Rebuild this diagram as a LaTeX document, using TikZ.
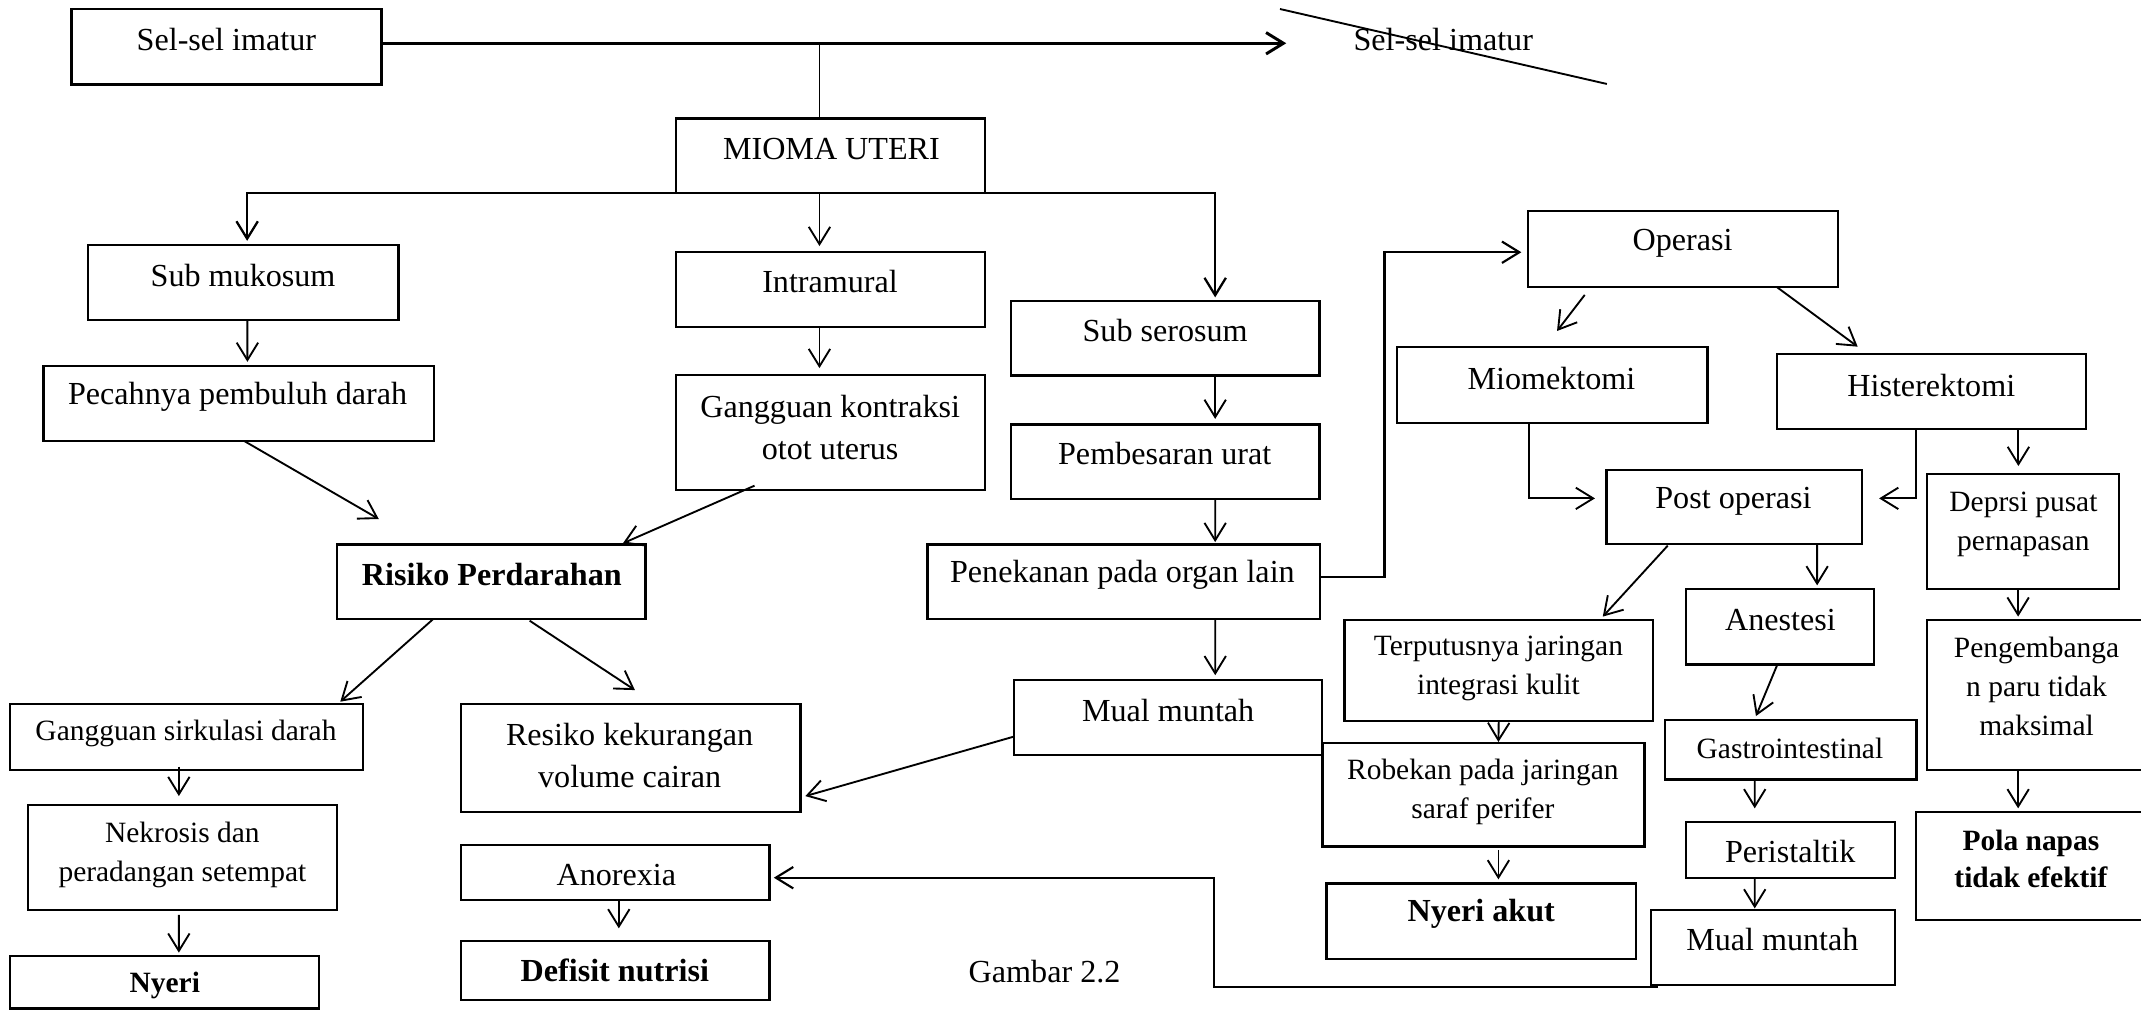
\documentclass[tikz,border=0pt]{standalone}
\usepackage{fontspec}
\setmainfont{Liberation Serif}
\usetikzlibrary{arrows.meta,calc}
\newcommand{\bx}[5]{\node[box, minimum width={(#4-#2)*0.51pt}, minimum height={(#5-#3)*0.51pt}] (#1) at ({(#2+#4)/2},{(#3+#5)/2}) {};}
\begin{document}
\begin{tikzpicture}[x=0.51pt,y=-0.51pt,
  box/.style={draw, line width=0.85pt, inner sep=0pt, outer sep=0pt},
  t12/.style={font=\fontsize{12}{15.8}\selectfont, align=center, inner sep=0pt},
  t11/.style={font=\fontsize{11}{14.6}\selectfont, align=center, inner sep=0pt},
  t12b/.style={t12, font=\fontsize{12}{15.8}\selectfont\bfseries},
  t11b/.style={t11, font=\fontsize{11}{14}\selectfont\bfseries},
  ln/.style={line width=0.7pt},
  arr/.style={ln, -{Straight Barb[length=6.5pt,width=8pt]}},
  barln/.style={line width=0.85pt},
  thickln/.style={line width=0.8pt},
  topln/.style={line width=1.1pt}]
\useasboundingbox (0,0) rectangle (1568,739.7);

% boxes
\bx{sel}{52.3}{6.6}{279.3}{61.8}
\bx{mioma}{495.1}{86.7}{721.6}{141.6}
\bx{submuk}{64.5}{179.4}{291.9}{234.4}
\bx{intra}{495.1}{184.8}{721.6}{239.7}
\bx{subser}{740.3}{220.4}{966.4}{275.1}
\bx{pec}{31.8}{268}{317.6}{323}
\bx{gkon}{495.1}{274.6}{721.6}{358.9}
\bx{pemb}{740.3}{310.8}{966.4}{365.5}
\bx{risiko}{246.6}{398.7}{472.7}{453.6}
\bx{penek}{679.2}{398.7}{966.9}{453.6}
\bx{mual1}{742.4}{498}{968}{553}
\bx{gsirk}{7.2}{515.6}{266.1}{564}
\bx{resiko}{337.6}{515.6}{586.2}{594.5}
\bx{nekro}{20.5}{589.6}{246.6}{666.5}
\bx{nyeri}{7.2}{700}{233.8}{738.5}
\bx{anor}{337.6}{618.9}{563.6}{659.2}
\bx{defisit}{337.6}{689}{563.6}{732.4}
\bx{operasi}{1118.8}{154.5}{1346}{210}
\bx{miom}{1023.1}{253.9}{1250.4}{309.6}
\bx{hist}{1301.4}{259.5}{1527.5}{314.4}
\bx{post}{1176.5}{344.2}{1363.4}{398.6}
\bx{deprsi}{1411}{347.2}{1552}{431.6}
\bx{terput}{984.6}{454}{1210.6}{527.8}
\bx{anest}{1234.6}{431.6}{1372.2}{486.6}
\bx{gastro}{1219.5}{527.4}{1403.5}{570.8}
\bx{robek}{968.5}{544.4}{1204.4}{620}
\bx{peri}{1234.6}{601.8}{1387.8}{642.8}
\bx{nyeriak}{971.4}{647}{1198.1}{702.4}
\bx{mual2}{1209.2}{666.5}{1387.8}{721.4}
\bx{peng}{1411}{454}{1575}{564}
\bx{pola}{1403.3}{594.5}{1575}{673.8}

% texts
\node[t12] (sel-t) at (165.8,28.8) {Sel-sel imatur};
\node[t12] (xsel) at (1057,29.3) {Sel-sel imatur};
\node[t12] (mioma-t) at (608.9,109.1) {MIOMA UTERI};
\node[t12] (submuk-t) at (178,202.1) {Sub mukosum};
\node[t12] (intra-t) at (607.9,206.3) {Intramural};
\node[t12] (subser-t) at (853.3,242.4) {Sub serosum};
\node[t12] (pec-t) at (174,290.5) {Pecahnya pembuluh darah};
\node[t12] (gkon-t) at (608,313.2) {Gangguan kontraksi\\otot uterus};
\node[t12] (pemb-t) at (853,332.5) {Pembesaran urat};
\node[t12b] (risiko-t) at (360.2,421.1) {Risiko Perdarahan};
\node[t12] (penek-t) at (822,421.1) {Penekanan pada organ lain};
\node[t12] (mual1-t) at (855.5,520) {Mual muntah};
\node[t11] (gsirk-t) at (136.2,537.1) {Gangguan sirkulasi darah};
\node[t12] (resiko-t) at (461.1,553.5) {Resiko kekurangan\\volume cairan};
\node[t11] (nekro-t) at (133.6,626) {Nekrosis dan\\peradangan setempat};
\node[t11b] (nyeri-t) at (120.7,721.4) {Nyeri};
\node[t12] (anor-t) at (451.4,640.9) {Anorexia};
\node[t12b] (defisit-t) at (450.3,710.4) {Defisit nutrisi};
\node[t12] (gambar) at (765,711.6) {Gambar 2.2};
\node[t12] (operasi-t) at (1232.2,178.5) {Operasi};
\node[t12] (miom-t) at (1136.2,277.5) {Miomektomi};
\node[t12] (hist-t) at (1414.4,282.7) {Histerektomi};
\node[t12] (post-t) at (1269.5,366.8) {Post operasi};
\node[t11] (deprsi-t) at (1481.9,384) {Deprsi pusat\\pernapasan};
\node[t11] (terput-t) at (1097.4,489.2) {Terputusnya jaringan\\integrasi kulit};
\node[t12] (anest-t) at (1303.9,454.1) {Anestesi};
\node[t11] (gastro-t) at (1310.9,548.1) {Gastrointestinal};
\node[t11] (robek-t) at (1086,580.2) {Robekan pada jaringan\\saraf perifer};
\node[t12] (peri-t) at (1311.1,623.3) {Peristaltik};
\node[t12b] (nyeriak-t) at (1084.8,668.9) {Nyeri akut};
\node[t12] (mual2-t) at (1298,688.4) {Mual muntah};
\node[t11] (peng-t) at (1491.5,503) {Pengembanga\\n paru tidak\\maksimal};
\node[t11b] (pola-t) at (1487.4,629.2) {Pola napas\\tidak efektif};

% strike-through line over the second label
\draw[ln] ($(xsel.center)+(-119.6,-22.7)$) -- ($(xsel.center)+(119.8,32.2)$);

% connectors
\coordinate (selend) at (942,31.7);
\draw[arr, topln] (sel.east |- selend) -- (selend);
\draw[ln] ($(mioma.north)+(-8.2,0)$) -- ($(mioma.north)+(-8.2,-55)$);
\draw[arr, barln] (mioma.south) -| ($(submuk.north)+(2.8,-3)$);
\draw[arr, barln] (mioma.south) -| ($(subser.north)+(36.6,-2.6)$);
\draw[arr] ($(mioma.south)+(-8.2,0)$) -- ($(intra.north)+(-8.2,-4.6)$);
\draw[arr] ($(submuk.south)+(3,0)$) -- ($(pec.north)+(6.5,-3)$);
\draw[arr] ($(intra.south)+(-8.2,0)$) -- ($(gkon.north)+(-8.2,-5)$);
\draw[arr] ($(subser.south)+(36.6,0)$) -- ($(pemb.north)+(36.6,-4)$);
\draw[arr] ($(pec.south)+(4.2,0)$) -- ($(risiko.north)+(-82.25,-18.6)$);
\draw[arr] ($(gkon.south)+(-55.75,-3.2)$) -- ($(risiko.north)+(96.55,-0.8)$);
\draw[arr] ($(pemb.south)+(36.6,0)$) -- ($(penek.north)+(66.9,-1.7)$);
\draw[arr, thickln] ($(penek.east)+(0,-3.4)$) -- ++(47,0) |- ($(operasi.west)+(-4.6,2.5)$);
\draw[arr] ($(penek.south)+(66.9,0)$) -- ($(mual1.north)+(34.8,-3.5)$);
\draw[arr] ($(mual1.west)+(0,14)$) -- ($(resiko.east)+(3.6,28)$);
\draw[arr] ($(risiko.south)+(-42.65,0)$) -- ($(gsirk.north)+(112.55,-1.7)$);
\draw[arr] ($(risiko.south)+(28.25,1)$) -- ($(resiko.north)+(3.1,-10.2)$);
\draw[arr] ($(gsirk.south)+(-5.65,-2.5)$) -- ($(nekro.north)+(-2.55,-6.6)$);
\draw[arr] ($(nekro.south)+(-2.55,3.5)$) -- ($(nyeri.north)+(10.5,-2.3)$);
\draw[arr] ($(anor.south)+(2.6,0)$) -- ($(defisit.north)+(2.6,-9.1)$);
\draw[arr, thickln] ($(mual2.south west)+(5,1.2)$) -| ($(anor.east)+(325.7,3.75)$) -- ($(anor.east)+(3.1,3.75)$);
\draw[arr] ($(operasi.south)+(-71.8,6)$) -- ($(miom.north)+(3.55,-11.5)$);
\draw[arr] ($(operasi.south)+(69.1,0.4)$) -- ($(hist.north)+(-53.95,-5.6)$);
\draw[arr] ($(miom.south)+(-16.75,0)$) |- ($(post.west)+(-8.4,-6.4)$);
\draw[arr] ($(hist.south)+(-11.05,0)$) |- ($(post.east)+(12.8,-6.4)$);
\draw[arr] ($(hist.south)+(63.75,0)$) -- ($(deprsi.north)+(-3.3,-5.9)$);
\draw[arr] ($(post.south)+(-48.55,1)$) -- ($(terput.north)+(76.2,-2.4)$);
\draw[arr] ($(post.south)+(60.85,0)$) -- ($(anest.north)+(27.4,-2.9)$);
\draw[arr] ($(deprsi.south)+(-3.5,0)$) -- ($(peng.north)+(-15,-2.4)$);
\draw[arr] ($(anest.south)+(-1.7,0)$) -- ($(gastro.north)+(-25.5,-3)$);
\draw[arr] (terput.south) -- ($(robek.north)+(10.95,-1)$);
\draw[arr] ($(gastro.south)+(-26.4,0)$) -- ($(peri.north)+(-26.1,-9.8)$);
\draw[arr] ($(robek.south)+(10.95,2.5)$) -- ($(nyeriak.north)+(12.65,-3)$);
\draw[arr] ($(peri.south)+(-26.1,0)$) -- ($(mual2.north)+(-13.4,-1.2)$);
\draw[arr] ($(peng.south)+(-15,0)$) -- ($(pola.north)+(-11.15,-2.5)$);
\end{tikzpicture}
\end{document}
